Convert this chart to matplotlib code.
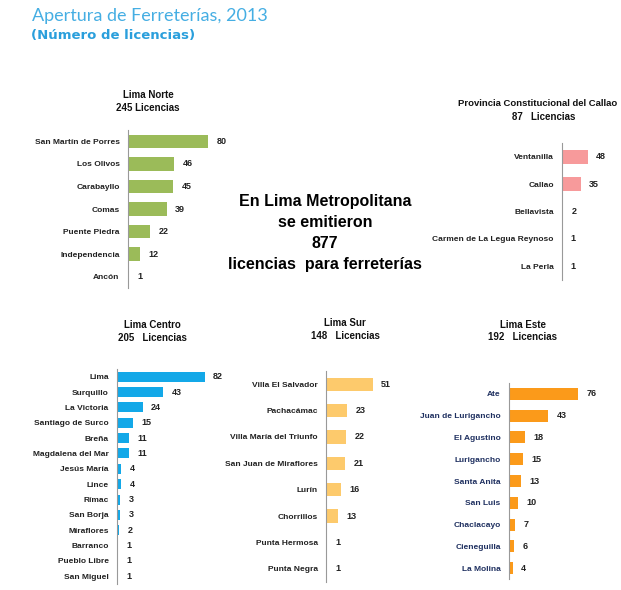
import matplotlib.pyplot as plt

# datos por zona
norte_cat = ['San Martín de Porres', 'Los Olivos', 'Carabayllo', 'Comas',
             'Puente Piedra', 'Independencia', 'Ancón']
norte_val = [80, 46, 45, 39, 22, 12, 1]

callao_cat = ['Ventanilla', 'Callao', 'Bellavista',
              'Carmen de La Legua Reynoso', 'La Perla']
callao_val = [48, 35, 2, 1, 1]

centro_cat = ['Lima', 'Surquillo', 'La Victoria', 'Santiago de Surco', 'Breña',
              'Magdalena del Mar', 'Jesús María', 'Lince', 'Rímac', 'San Borja',
              'Miraflores', 'Barranco', 'Pueblo Libre', 'San Miguel']
centro_val = [82, 43, 24, 15, 11, 11, 4, 4, 3, 3, 2, 1, 1, 1]

sur_cat = ['Villa El Salvador', 'Pachacámac', 'Villa María del Triunfo',
           'San Juan de Miraflores', 'Lurín', 'Chorrillos', 'Punta Hermosa',
           'Punta Negra']
sur_val = [51, 23, 22, 21, 16, 13, 1, 1]

este_cat = ['Ate', 'Juan de Lurigancho', 'El Agustino', 'Lurigancho',
            'Santa Anita', 'San Luis', 'Chaclacayo', 'Cieneguilla', 'La Molina']
este_val = [76, 43, 18, 15, 13, 10, 7, 6, 4]

W, H = 621, 590
plt.rcParams['font.family'] = ['Liberation Sans', 'DejaVu Sans']
fig = plt.figure(figsize=(W / 100, H / 100), dpi=100)


def panel(cat, val, left, top, bottom, px_unit, width, color, bh, lblcolor='#222222'):
    ax = fig.add_axes([left / W, 1 - bottom / H, width / W, (bottom - top) / H])
    y = list(range(len(cat)))
    ax.barh(y, val, height=bh, color=color)
    ax.set_ylim(len(cat) - 0.5, -0.5)
    ax.set_xlim(0, width / px_unit)
    ax.set_yticks(y)
    ax.set_yticklabels(cat, fontsize=6, fontweight='bold', color=lblcolor)
    ax.tick_params(axis='y', length=0, pad=6)
    ax.set_xticks([])
    for s in ['top', 'right', 'bottom']:
        ax.spines[s].set_visible(False)
    ax.spines['left'].set_color('#999999')
    ax.patch.set_alpha(0)
    for yi, v in zip(y, val):
        ax.annotate(str(v), (v, yi), xytext=(6, 0), textcoords='offset points',
                    va='center', ha='left', fontsize=6.5, fontweight='bold',
                    color='#222222')
    return ax


def ftext(x, y, s, **kw):
    fig.text(x / W, 1 - y / H, s, **kw)


panel(norte_cat, norte_val, 128, 130, 288, 1.0, 100, '#9bbb59', 0.6)
panel(callao_cat, callao_val, 562, 143, 280, 0.54, 59, '#f79a9b', 0.5)
panel(centro_cat, centro_val, 117, 369, 584, 1.07, 110, '#13a8e8', 0.65)
panel(sur_cat, sur_val, 326, 371, 582, 0.92, 80, '#fdca6c', 0.5)
panel(este_cat, este_val, 509, 383, 579, 0.91, 100, '#fb9a1a', 0.55,
      lblcolor='#1f3060')

tkw = dict(fontsize=7, fontweight='bold', ha='center', va='center', color='#111111')
ftext(148, 95, 'Lima Norte', **tkw)
ftext(148, 108, '245 Licencias', **tkw)
ftext(458, 103, 'Provincia Constitucional del Callao', fontsize=6.8,
      fontweight='bold', ha='left', va='center', color='#111111')
ftext(544, 117, '87   Licencias', **tkw)
ftext(152, 325, 'Lima Centro', **tkw)
ftext(152, 338, '205   Licencias', **tkw)
ftext(345, 323, 'Lima Sur', **tkw)
ftext(345, 336, '148   Licencias', **tkw)
ftext(523, 325, 'Lima Este', **tkw)
ftext(523, 337, '192   Licencias', **tkw)

ckw = dict(fontsize=11.5, fontweight='bold', ha='center', va='center', color='#000000')
ftext(325, 202, 'En Lima Metropolitana', **ckw)
ftext(325, 223, 'se emitieron', **ckw)
ftext(325, 243, '877', **ckw)
ftext(325, 264, 'licencias  para ferreterías', **ckw)

ftext(32, 16, 'Apertura de Ferreterías, 2013', fontsize=13, family='Lato',
      color='#45aee3', ha='left', va='center')
ftext(31, 35, '(Número de licencias)', fontsize=9.5, fontweight='bold',
      family='DejaVu Sans', color='#2a9fdc', ha='left', va='center')

fig.savefig('out.png', dpi=100)
